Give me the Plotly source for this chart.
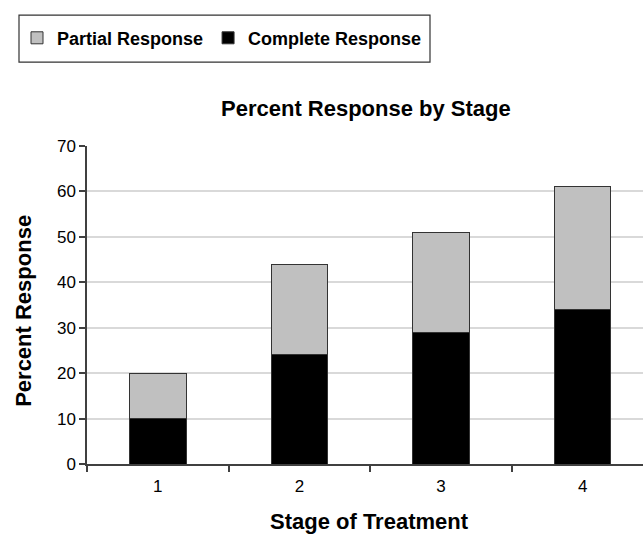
import plotly.graph_objects as go

stages = ["1", "2", "3", "4"]
complete = [10, 24, 29, 34]
partial = [10, 20, 22, 27]

FONT = "Liberation Sans, Arial, sans-serif"
PH = 318.3   # plot height px
PW = 556.0   # plot width px
Y0 = 464.3   # px of plot bottom
X0 = 87.0    # px of plot left

def px(x):
    return (x - X0) / PW

def py(y):
    return (Y0 - y) / PH

fig = go.Figure()
fig.add_trace(go.Bar(x=stages, y=complete, name="Complete Response",
                     marker=dict(color="#000000", line=dict(color="#333333", width=1))))
fig.add_trace(go.Bar(x=stages, y=partial, name="Partial Response",
                     marker=dict(color="#c0c0c0", line=dict(color="#333333", width=1))))

fig.update_layout(
    width=643, height=535,
    barmode="stack", bargap=0.6,
    plot_bgcolor="white", paper_bgcolor="white",
    margin=dict(l=87, r=0, t=146, b=71),
    font=dict(family=FONT, size=17, color="#000000"),
    showlegend=True,
    legend=dict(orientation="h", traceorder="reversed",
                x=px(17), y=py(38), xanchor="left", yanchor="middle",
                borderwidth=0, bgcolor="rgba(0,0,0,0)",
                font=dict(family=FONT, size=18, color="#000000", weight="bold"),
                itemclick=False),
    xaxis=dict(type="category", range=[-0.5, 3.426], tickson="boundaries",
               ticks="outside", ticklen=6, tickcolor="#404040", tickwidth=1.5,
               showline=True, linecolor="#404040", linewidth=1.5,
               showgrid=False, tickfont=dict(size=17), ticklabelstandoff=6),
    yaxis=dict(range=[0, 70], dtick=10, ticks="outside", ticklen=6,
               tickcolor="#404040", tickwidth=1.5,
               showline=True, linecolor="#404040", linewidth=1.5,
               gridcolor="#d9d9d9", gridwidth=1.5, zeroline=False,
               tickfont=dict(size=17)),
    shapes=[
        dict(type="rect", xref="paper", yref="paper",
             x0=px(19), x1=px(430), y0=py(62), y1=py(15),
             line=dict(color="#333333", width=1.2), fillcolor="rgba(0,0,0,0)"),
    ],
    annotations=[
        dict(text="<b>Percent Response by Stage</b>", xref="paper", yref="paper",
             x=px(366), y=py(108), showarrow=False,
             font=dict(size=22), xanchor="center", yanchor="middle"),
        dict(text="<b>Stage of Treatment</b>", xref="paper", yref="paper",
             x=px(369), y=py(522), showarrow=False,
             font=dict(size=22), xanchor="center", yanchor="middle"),
        dict(text="<b>Percent Response</b>", xref="paper", yref="paper",
             x=px(24), y=py(311), showarrow=False,
             textangle=-90, font=dict(size=22), xanchor="center", yanchor="middle"),
    ],
)

fig.write_html("out.html", config={"displayModeBar": False},
               post_script="document.body.style.margin='0';document.body.style.overflow='hidden';")
